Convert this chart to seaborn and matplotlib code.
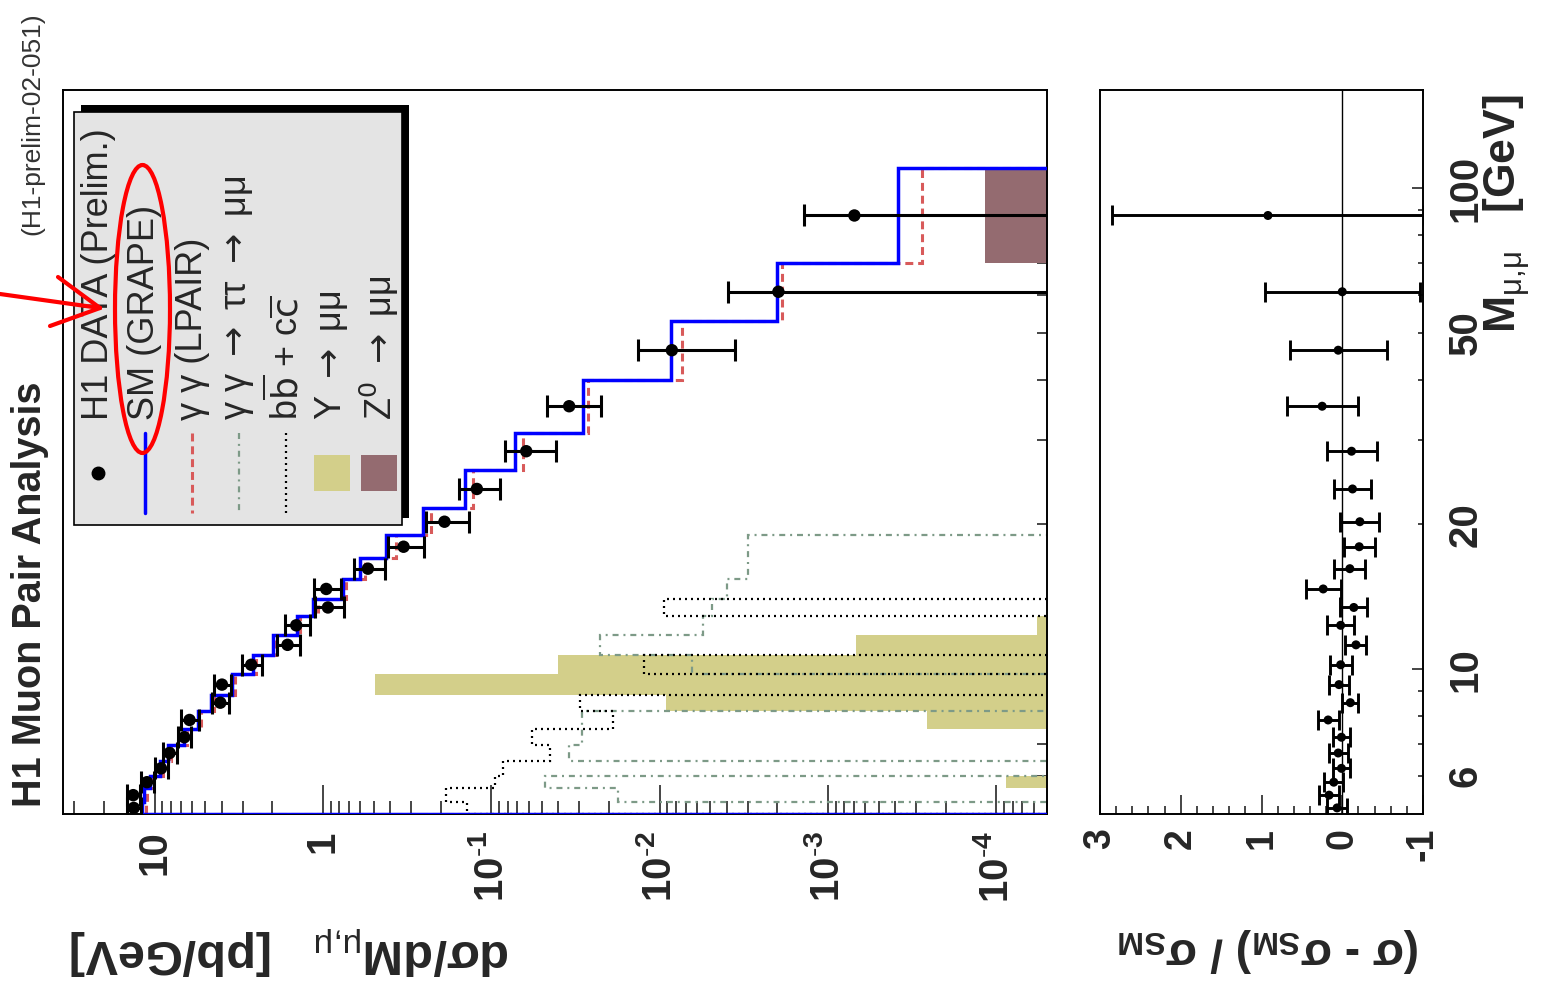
import numpy as np
import matplotlib
matplotlib.use('Agg')
import matplotlib.pyplot as plt
import seaborn as sns
from matplotlib.patches import Rectangle, Ellipse
from matplotlib.lines import Line2D
from matplotlib.ticker import LogLocator, MultipleLocator, NullFormatter

# mass bins [GeV]
mass_edges = [5.0, 5.3, 5.65, 6.0, 6.45, 6.95, 7.5, 8.2, 8.85, 9.75, 10.7, 11.8,
              12.9, 14.0, 15.4, 17.0, 19.0, 21.6, 26.0, 31.0, 40.0, 53.0, 70.0, 110.0]

# dsigma/dM [pb/GeV] per bin (0 = empty bin)
sm_grape = [11.8, 11.6, 10.6, 9.25, 8.29, 6.73, 5.52, 4.61, 3.46, 2.60, 1.98, 1.43,
            1.147, 0.761, 0.606, 0.421, 0.253, 0.143, 0.0721, 0.0284, 0.00854, 0.00201, 0.000382]
lpair = [11.3, 11.1, 10.2, 8.9, 7.95, 6.45, 5.3, 4.42, 3.32, 2.49, 1.90, 1.37,
         1.076, 0.730, 0.56, 0.37, 0.2275, 0.1286, 0.0644, 0.0268, 0.00732, 0.00188, 0.000277]
tautau = [0, 0.0176, 0.0479, 0, 0.0345, 0.0288, 0.0288, 0, 0, 0.00644, 0.0226, 0.00552,
          0.00488, 0.00397, 0.00298, 0.00298, 0, 0, 0, 0, 0, 0, 0]
bbcc = [0.1396, 0.1853, 0.0948, 0.0850, 0.0447, 0.0574, 0.0188, 0.0297, 0, 0.0123, 0, 0,
        0.00937, 0, 0, 0, 0, 0, 0, 0, 0, 0, 0]
upsilon = [0, 0, 8.8e-5, 0, 0, 0, 2.57e-4, 9.15e-3, 0.489, 0.0399, 6.84e-4, 5.7e-5,
           0, 0, 0, 0, 0, 0, 0, 0, 0, 0, 0]
z0 = [0, 0, 0, 0, 0, 0, 0, 0, 0, 0, 0, 0, 0, 0, 0, 0, 0, 0, 0, 0, 0, 0, 1.17e-4]

h1_data = [13.3, 13.4, 11.1, 9.16, 8.15, 6.66, 6.20, 4.07, 3.98, 2.666, 1.623, 1.441,
           0.934, 0.956, 0.5405, 0.332, 0.1897, 0.1218, 0.0620, 0.03447, 0.00846, 0.00197, 0.000697]
h1_err = [1.2, 1.2, 1.0, 0.85, 0.75, 0.6, 0.77, 0.47, 0.45, 0.36, 0.26, 0.24,
          0.18, 0.17, 0.115, 0.08, 0.054, 0.033, 0.021, 0.0123, 0.0049, 0.00197, 0.000697]

# (sigma - sigma_SM) / sigma_SM
ratio = [0.064, 0.163, 0.105, 0.01, 0.05, 0.01, 0.175, -0.10, 0.04, 0.02, -0.17, 0.02,
         -0.143, 0.236, -0.094, -0.21, -0.218, -0.127, -0.115, 0.249, 0.05, 0.0, 0.92]
ratio_err = [0.12, 0.12, 0.12, 0.11, 0.12, 0.11, 0.13, 0.10, 0.12, 0.135, 0.13, 0.165,
             0.165, 0.215, 0.19, 0.19, 0.24, 0.23, 0.31, 0.44, 0.6, 0.96, 1.93]

dsig_ticks = [10, 1, 0.1, 0.01, 0.001, 0.0001]
dsig_ticklabels = ['10', '1'] + [r'$\mathbf{10}^{\text{-}\mathbf{%d}}$' % k for k in (1, 2, 3, 4)]
ratio_ticks = [3, 2, 1, 0, -1]
ratio_ticklabels = ['3', '2', '1', '0', '-1']
mass_major = [10, 100]
mass_major_labels = ['10', '100']
mass_minor = [6, 7, 8, 9, 20, 30, 40, 50, 60, 70, 80, 90]
mass_minor_labels = ['6', '', '', '', '20', '', '', '50', '', '', '', '']

legend_labels = ['H1 DATA (Prelim.)', 'SM (GRAPE)', 'γ γ (LPAIR)',
                 r'γ γ $\rightarrow$ ττ $\rightarrow$ μμ',
                 r'b$\overline{\mathrm{b}}$ + c$\overline{\mathrm{c}}$',
                 r'Υ $\rightarrow$ μμ', r'Z$^{0}$ $\rightarrow$ μμ']

# colours
c_blue = '#0000ff'
c_red = '#d85a5a'
c_green = '#7d9a87'
c_khaki = '#d3cf8a'
c_brown = '#946b70'

sns.set_style('ticks')
plt.rcParams['font.family'] = ['Liberation Sans', 'DejaVu Sans']
plt.rcParams['mathtext.fontset'] = 'custom'
plt.rcParams['mathtext.rm'] = 'Liberation Sans'
plt.rcParams['mathtext.it'] = 'Liberation Sans:italic'
plt.rcParams['mathtext.bf'] = 'Liberation Sans:bold'

W, H = 1543, 982
fig = plt.figure(figsize=(W / 100, H / 100), dpi=100)
fig.patch.set_facecolor('white')


def fx(x):
    return x / W


def fy(y):
    return 1 - y / H


ax = fig.add_axes([fx(63), fy(814), fx(1047) - fx(63), fy(90) - fy(814)])
axr = fig.add_axes([fx(1100), fy(814), fx(1423) - fx(1100), fy(90) - fy(814)])

edges = np.array(mass_edges)
centers = np.sqrt(edges[:-1] * edges[1:])
floor = 1e-9


def nz(v):
    v = np.array(v, dtype=float)
    return np.where(v > 0, v, floor)


# ---- main panel ----
ax.stairs(nz(upsilon), edges, orientation='horizontal', baseline=floor, fill=True,
          color=c_khaki, lw=0, zorder=1)
ax.stairs(nz(z0), edges, orientation='horizontal', baseline=floor, fill=True,
          color=c_brown, lw=0, zorder=1)
ax.stairs(nz(tautau), edges, orientation='horizontal', baseline=floor, color=c_green,
          lw=1.6, linestyle=(0, (2.7, 2.2, 0.9, 2.2)), zorder=2)
ax.stairs(nz(bbcc), edges, orientation='horizontal', baseline=floor, color='black',
          lw=1.6, linestyle=(0, (0.9, 1.8)), zorder=2.1)
ax.stairs(nz(lpair), edges, orientation='horizontal', baseline=floor, color=c_red,
          lw=2.2, linestyle=(0, (2.6, 1.6)), zorder=2.5)
ax.stairs(nz(sm_grape), edges, orientation='horizontal', baseline=floor, color=c_blue,
          lw=2.5, zorder=3)

data = np.array(h1_data)
err = np.array(h1_err)
err_lo = np.minimum(err, 0.999 * data)
ax.errorbar(data, centers, xerr=[err_lo, err], fmt='none', ecolor='black',
            elinewidth=2.2, capsize=8, capthick=2.2, zorder=4)
sns.scatterplot(x=data, y=centers, ax=ax, color='black', s=80, edgecolor='none', zorder=5)

ax.set_xscale('log')
ax.set_yscale('log')
ax.set_xlim(35, 5e-5)
ax.set_ylim(5, 160)
ax.set_xticks(dsig_ticks, labels=dsig_ticklabels)
ax.xaxis.set_minor_locator(LogLocator(base=10, subs=np.arange(2, 10), numticks=60))
ax.xaxis.set_minor_formatter(NullFormatter())
ax.set_yticks(mass_major, labels=['', ''])
ax.set_yticks(mass_minor, labels=[''] * len(mass_minor), minor=True)
ax.tick_params(axis='x', which='major', direction='in', length=21, width=1.2,
               bottom=True, top=False, labelrotation=90, pad=12, labelsize=29)
ax.tick_params(axis='x', which='minor', direction='in', length=9.4, width=1.2,
               bottom=True, top=False)
ax.tick_params(axis='y', which='both', direction='in', left=False, right=True,
               labelleft=False, labelright=False, width=1.2)
ax.tick_params(axis='y', which='major', length=13.7)
ax.tick_params(axis='y', which='minor', length=7)
for lbl in ax.get_xticklabels():
    lbl.set_fontweight('bold')
ax.set_xlabel('')
ax.set_ylabel('')

# ---- ratio panel ----
axr.axvline(0, color='black', lw=1, zorder=1)
axr.errorbar(ratio, centers, xerr=ratio_err, fmt='none', ecolor='black',
             elinewidth=2.1, capsize=7, capthick=2.1, zorder=3)
sns.scatterplot(x=ratio, y=centers, ax=axr, color='black', s=42, edgecolor='none', zorder=4)
axr.set_xlim(3, -1)
axr.set_yscale('log')
axr.set_ylim(5, 160)
axr.set_xticks(ratio_ticks, labels=ratio_ticklabels)
axr.xaxis.set_minor_locator(MultipleLocator(0.2))
axr.yaxis.tick_right()
axr.set_yticks(mass_major, labels=mass_major_labels)
axr.set_yticks(mass_minor, labels=mass_minor_labels, minor=True)
axr.tick_params(axis='x', which='major', direction='in', length=13.7, width=1.2,
                bottom=True, top=False, labelrotation=90, pad=10, labelsize=27)
axr.tick_params(axis='x', which='minor', direction='in', length=6, width=1.2,
                bottom=True, top=False)
axr.tick_params(axis='y', which='both', direction='in', left=False, right=True,
                labelleft=False, labelright=True, labelrotation=90, pad=17,
                labelsize=29, width=1.2)
axr.tick_params(axis='y', which='major', length=7.7)
axr.tick_params(axis='y', which='minor', length=3.6)
for lbl in axr.get_xticklabels():
    lbl.set_fontweight('bold')
for lbl in axr.get_yticklabels(which='both'):
    lbl.set_fontweight('bold')
    lbl.set_va('center')
axr.set_xlabel('')
axr.set_ylabel('')

for a in (ax, axr):
    for s in a.spines.values():
        s.set_linewidth(1.4)
        s.set_color('black')
        s.set_visible(True)

# ---- texts ----
rot = dict(rotation_mode='anchor', ha='left', va='center')
fig.text(fx(30), fy(807), 'H1 Muon Pair Analysis', rotation=90, fontsize=28.5,
         fontweight='bold', **rot)
fig.text(fx(32), fy(235), '(H1-prelim-02-051)', rotation=90, fontsize=19,
         color='#333333', **rot)
fig.text(fx(510), fy(950), r'dσ/dM$_{\text{μ,μ}}$   [pb/GeV]', rotation=180,
         fontsize=35, fontweight='bold', **rot)
fig.text(fx(1420), fy(950), r'(σ - σ$_{\mathbf{SM}}$) / σ$_{\mathbf{SM}}$', rotation=180,
         fontsize=33, fontweight='bold', **rot)
fig.text(fx(1507), fy(333), r'M$_{\text{μ,μ}}$   [GeV]', rotation=90,
         fontsize=32, fontweight='bold', **rot)

# ---- legend ----
fig.add_artist(Rectangle((fx(81), fy(518)), fx(409) - fx(81), fy(105) - fy(518),
                         transform=fig.transFigure, facecolor='black', edgecolor='none',
                         zorder=1))
fig.add_artist(Rectangle((fx(74), fy(525)), fx(402) - fx(74), fy(112) - fy(525),
                         transform=fig.transFigure, facecolor='#e4e4e4', edgecolor='black',
                         lw=1.2, zorder=1.1))
col_x = [98, 145, 192, 239, 286, 332, 379]
fig.add_artist(Line2D([fx(col_x[0])], [fy(473)], marker='o', ms=9, color='black',
                      transform=fig.transFigure, zorder=2))
line_styles = [(c_blue, '-', 2.5), (c_red, (0, (2.6, 1.6)), 2.2),
               (c_green, (0, (2.7, 2.2, 0.9, 2.2)), 1.6), ('black', (0, (0.9, 1.8)), 1.6)]
for xc, (col, ls, lw) in zip(col_x[1:5], line_styles):
    fig.add_artist(Line2D([fx(xc), fx(xc)], [fy(433), fy(513)], color=col, ls=ls, lw=lw,
                          transform=fig.transFigure, zorder=2))
for xc, col in zip(col_x[5:], [c_khaki, c_brown]):
    fig.add_artist(Rectangle((fx(xc - 18), fy(491)), fx(36), 36 / H,
                             transform=fig.transFigure, facecolor=col, edgecolor='none',
                             zorder=2))
for xc, lab in zip(col_x, legend_labels):
    fig.text(fx(xc), fy(420), lab, rotation=90, fontsize=26, zorder=3,
             math_fontfamily='dejavusans', **rot)

# red annotation
fig.add_artist(Ellipse((fx(142.5), fy(309)), fx(55), 288 / H, transform=fig.transFigure,
                       fill=False, edgecolor='red', lw=3, zorder=6))
for (x0, y0) in [(0, 294), (58, 277), (50, 326)]:
    fig.add_artist(Line2D([fx(x0), fx(100)], [fy(y0), fy(308)], color='red', lw=3,
                          transform=fig.transFigure, zorder=6))

fig.savefig('out.png', dpi=100)
